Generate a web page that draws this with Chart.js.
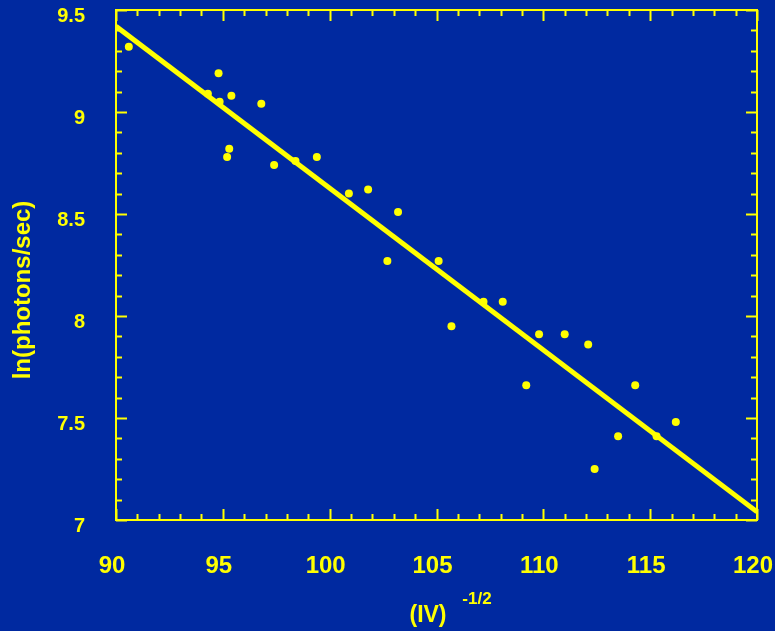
<!DOCTYPE html>
<html>
<head>
<meta charset="utf-8">
<script src="https://cdn.jsdelivr.net/npm/chart.js@4/dist/chart.umd.min.js"></script>
<style>
  html, body { margin: 0; padding: 0; background: #0029a0; }
  #wrap { width: 775px; height: 631px; }
</style>
</head>
<body>
<div id="wrap"><canvas id="chart_photons"></canvas></div>
<script>
// measured points, (IV)^-1/2 vs ln(photons/sec)
const xValues = [90.6, 94.3, 94.8, 94.85, 95.2, 95.3, 95.4, 96.8, 97.4, 98.4,
  99.4, 100.9, 101.8, 102.7, 103.2, 105.1, 105.7, 107.2, 108.1, 109.2,
  109.8, 111.0, 112.1, 112.4, 113.5, 114.3, 115.3, 116.2];
const yValues = [9.32, 9.09, 9.19, 9.05, 8.78, 8.82, 9.08, 9.04, 8.74, 8.76,
  8.78, 8.60, 8.62, 8.27, 8.51, 8.27, 7.95, 8.07, 8.07, 7.66,
  7.91, 7.91, 7.86, 7.25, 7.41, 7.66, 7.41, 7.48];
// fitted line end points
const fitX = [90, 120];
const fitY = [9.42, 7.04];
const xTickLabels = [90, 95, 100, 105, 110, 115, 120];
const yTickLabels = [7, 7.5, 8, 8.5, 9, 9.5];

const YELLOW = "#ffff00";
const BLUE = "#0029a0";
const FONT = "'Liberation Sans', Arial, sans-serif";

function isLabel(list, v) {
  return list.some(l => Math.abs(l - v) < 1e-6);
}

// blue background + frame + inward ticks + axis titles
const framePlugin = {
  id: "frame",
  beforeDraw(chart) {
    const ctx = chart.ctx;
    ctx.save();
    ctx.fillStyle = BLUE;
    ctx.fillRect(0, 0, chart.width, chart.height);
    ctx.restore();
  },
  afterDraw(chart) {
    const ctx = chart.ctx;
    const a = chart.chartArea;
    const xs = chart.scales.x;
    const ys = chart.scales.y;
    ctx.save();
    ctx.strokeStyle = YELLOW;
    ctx.lineWidth = 2;
    ctx.strokeRect(a.left, a.top, a.right - a.left, a.bottom - a.top);

    ctx.beginPath();
    xs.ticks.forEach(t => {
      const px = Math.round(xs.getPixelForValue(t.value)) + 0.5;
      const len = isLabel(xTickLabels, t.value) ? 11 : 6;
      ctx.moveTo(px, a.bottom); ctx.lineTo(px, a.bottom - len);
      ctx.moveTo(px, a.top); ctx.lineTo(px, a.top + len);
    });
    ys.ticks.forEach(t => {
      const py = Math.round(ys.getPixelForValue(t.value)) + 0.5;
      const len = isLabel(yTickLabels, t.value) ? 11 : 6;
      ctx.moveTo(a.left, py); ctx.lineTo(a.left + len, py);
      ctx.moveTo(a.right, py); ctx.lineTo(a.right - len, py);
    });
    ctx.stroke();

    // axis titles
    ctx.fillStyle = YELLOW;
    ctx.textAlign = "center";
    ctx.textBaseline = "middle";
    ctx.font = "bold 23px " + FONT;
    ctx.fillText("(IV)", 428, 616);
    ctx.font = "bold 17px " + FONT;
    ctx.fillText("-1/2", 477, 599);

    ctx.translate(23, 290);
    ctx.rotate(-Math.PI / 2);
    ctx.font = "bold 24px " + FONT;
    ctx.fillText("ln(photons/sec)", 0, 0);
    ctx.restore();
  }
};

let ChartInstance = class {
  constructor(element) {
    this.chart = null;
    this.drawChart(element);
  }

  getPoints() {
    return xValues.map((x, i) => ({ x: x, y: yValues[i] }));
  }

  getFit() {
    return fitX.map((x, i) => ({ x: x, y: fitY[i] }));
  }

  drawChart(c) {
    this.chart = new Chart(document.getElementById(c), {
      type: "scatter",
      data: {
        datasets: [
          {
            type: "line",
            data: this.getFit(),
            borderColor: YELLOW,
            borderWidth: 5,
            pointRadius: 0,
            fill: false
          },
          {
            data: this.getPoints(),
            backgroundColor: YELLOW,
            borderColor: YELLOW,
            pointRadius: 4,
            borderWidth: 0
          }
        ]
      },
      options: {
        responsive: true,
        maintainAspectRatio: false,
        animation: false,
        layout: { padding: { top: 10, right: 18, left: 0, bottom: 0 } },
        plugins: {
          legend: { display: false },
          title: { display: false },
          tooltip: { enabled: false }
        },
        scales: {
          x: {
            type: "linear",
            min: 90,
            max: 120,
            grid: { display: false, drawTicks: false },
            border: { display: false },
            ticks: {
              stepSize: 1,
              autoSkip: false,
              maxRotation: 0,
              padding: 32,
              labelOffset: -4,
              color: YELLOW,
              font: { family: FONT, size: 24, weight: "bold" },
              callback: v => (isLabel(xTickLabels, v) ? String(v) : "")
            },
            afterFit: s => { s.height = 111; s.paddingLeft = 0; s.paddingRight = 0; }
          },
          y: {
            type: "linear",
            min: 7,
            max: 9.5,
            grid: { display: false, drawTicks: false },
            border: { display: false },
            ticks: {
              stepSize: 0.1,
              autoSkip: false,
              padding: 31,
              color: YELLOW,
              // two-line label with a blank first line pushes the number ~6px below its tick
              font: { family: FONT, size: 20, weight: "bold", lineHeight: 0.6 },
              callback: v => (isLabel(yTickLabels, v) ? ["", String(Math.round(v * 2) / 2)] : "")
            },
            afterFit: s => { s.width = 116; s.paddingTop = 0; s.paddingBottom = 0; }
          }
        }
      },
      plugins: [framePlugin]
    });
  }
};

// What runs
let photons = new ChartInstance("chart_photons");
</script>
</body>
</html>
